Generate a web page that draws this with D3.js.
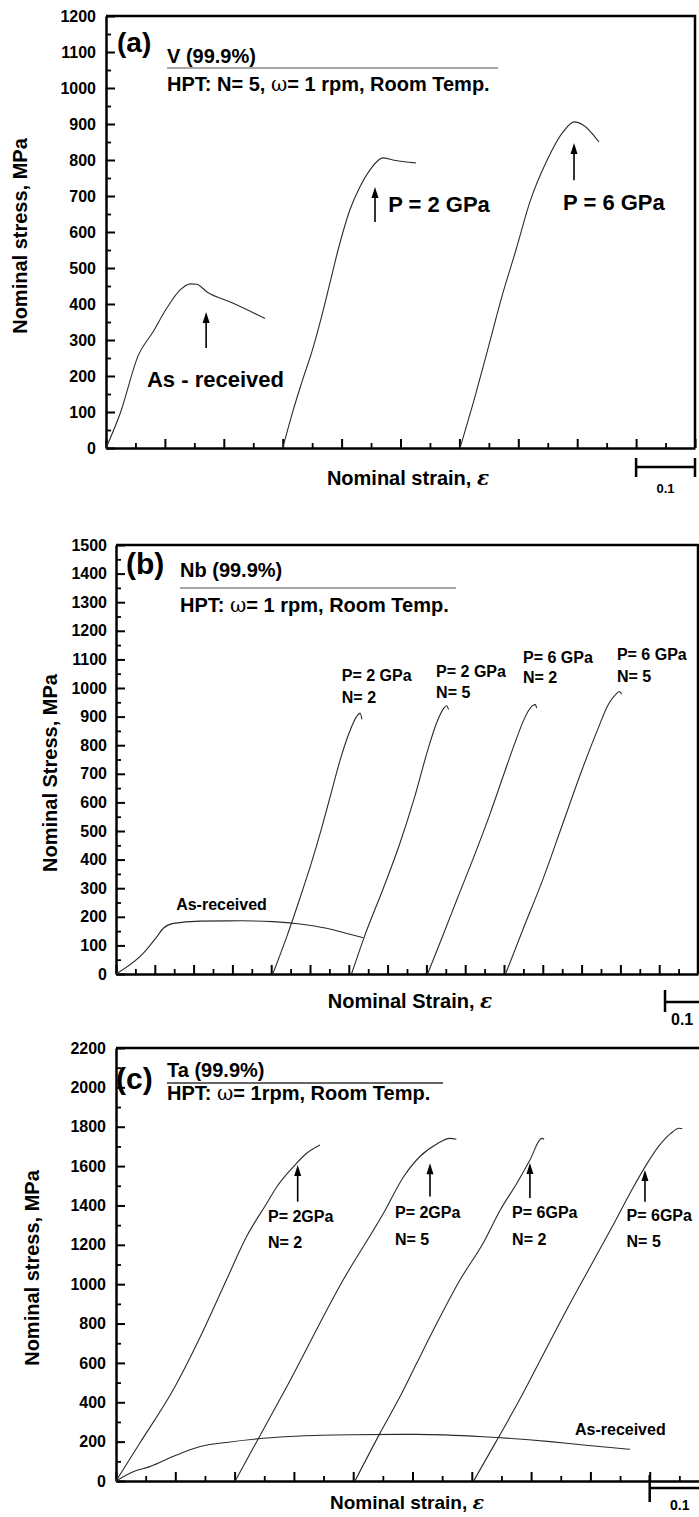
<!DOCTYPE html>
<html><head><meta charset="utf-8">
<script src="https://cdn.jsdelivr.net/npm/d3@7"></script>
<style>
body{margin:0;background:#fff;}
svg{display:block;font-family:"Liberation Sans",Arial,sans-serif;font-weight:bold;}
</style></head><body>
<svg id="chart" width="699" height="1517"></svg>
<script>
// ---------------- DATA ----------------
// Panel (a) V (99.9%)  [strain, stress MPa]
const vAsReceived = [[0,0],[0.024,96],[0.055,258],[0.080,323],[0.103,388],[0.126,439],[0.143,456],[0.154,455],[0.171,434],[0.216,402],[0.270,360]];
const vP2 = [[0.300,0],[0.318,106],[0.332,180],[0.352,281],[0.366,365],[0.380,457],[0.394,550],[0.414,661],[0.431,725],[0.448,772],[0.470,806],[0.487,800],[0.526,792]];
const vP6 = [[0.601,0],[0.626,140],[0.650,285],[0.672,420],[0.696,550],[0.720,685],[0.749,800],[0.776,878],[0.795,906],[0.810,897],[0.837,850]];
const aStressTicks = [0,100,200,300,400,500,600,700,800,900,1000,1100,1200];

// Panel (b) Nb (99.9%)
const nbAsReceived = [[0,0],[0.070,72],[0.105,130],[0.122,160],[0.148,177],[0.216,185],[0.320,186],[0.405,183],[0.474,175],[0.543,160],[0.603,139],[0.637,127]];
const nbP2N2 = [[0.404,0],[0.440,130],[0.474,265],[0.504,390],[0.530,510],[0.552,620],[0.577,745],[0.600,840],[0.620,900],[0.629,912],[0.634,890]];
const nbP2N5 = [[0.607,0],[0.640,130],[0.689,300],[0.730,450],[0.770,620],[0.805,790],[0.827,880],[0.844,928],[0.852,938],[0.857,925]];
const nbP6N2 = [[0.803,0],[0.844,140],[0.880,265],[0.921,405],[0.964,560],[1.000,700],[1.030,815],[1.050,885],[1.065,925],[1.075,940],[1.081,942],[1.084,930]];
const nbP6N5 = [[1.004,0],[1.050,160],[1.100,330],[1.150,520],[1.200,710],[1.240,850],[1.270,945],[1.288,978],[1.298,988],[1.303,978]];
const bStressTicks = [0,100,200,300,400,500,600,700,800,900,1000,1100,1200,1300,1400,1500];

// Panel (c) Ta (99.9%)
const taAsReceived = [[0,0],[0.029,47],[0.057,73],[0.102,132],[0.142,175],[0.186,196],[0.248,217],[0.310,229],[0.395,235],[0.507,237],[0.619,225],[0.732,200],[0.788,183],[0.867,161]];
const taP2N2 = [[0,0],[0.040,192],[0.096,461],[0.142,732],[0.186,1020],[0.220,1241],[0.254,1410],[0.271,1494],[0.299,1596],[0.321,1664],[0.344,1707]];
const taP2N5 = [[0.201,0],[0.290,490],[0.383,1021],[0.451,1360],[0.485,1546],[0.513,1650],[0.541,1712],[0.563,1741],[0.574,1736]];
const taP6N2 = [[0.403,0],[0.445,242],[0.479,429],[0.507,598],[0.541,801],[0.580,1021],[0.619,1208],[0.648,1377],[0.676,1513],[0.698,1631],[0.718,1741],[0.722,1736]];
const taP6N5 = [[0.603,0],[0.640,195],[0.680,410],[0.720,640],[0.760,870],[0.800,1090],[0.840,1310],[0.870,1480],[0.895,1610],[0.915,1700],[0.935,1765],[0.950,1792],[0.955,1790]];
const cStressTicks = [0,200,400,600,800,1000,1200,1400,1600,1800,2000,2200];

// ---------------- DRAW ----------------
const svg = d3.select("#chart");
const curveColor = "#2b2b2b";

function richText(g, x, y, size, parts, anchor) {
  const t = g.append("text").attr("x", x).attr("y", y).attr("font-size", size)
    .attr("text-anchor", anchor || "start").attr("fill", "#000");
  parts.forEach(p => {
    const s = t.append("tspan").text(p.t);
    if (p.serif) s.attr("font-family", "'DejaVu Serif','Liberation Serif',serif").attr("font-weight", p.w || "normal");
    if (p.italic) s.attr("font-style", "italic");
  });
  return t;
}

function arrow(g, x, y1, y2) {
  g.append("line").attr("x1", x).attr("x2", x).attr("y1", y1).attr("y2", y2 + 8)
    .attr("stroke", "#000").attr("stroke-width", 1.6);
  g.append("path").attr("d", `M${x},${y2} L${x-3.5},${y2+11} L${x+3.5},${y2+11} Z`).attr("fill", "#000");
}

function panel(cfg) {
  const g = svg.append("g");
  const x = d3.scaleLinear().domain(cfg.xDomain).range(cfg.xRange);
  const y = d3.scaleLinear().domain([0, cfg.yTicks[cfg.yTicks.length - 1]]).range(cfg.yRange);
  const yStep = cfg.yTicks[1] - cfg.yTicks[0];
  const yMinor = cfg.yTicks.slice(0, -1).map(v => v + yStep / 2);
  const xMaj = d3.range(0, cfg.xDomain[1] + 1e-9, 0.1);
  const xMin = d3.range(0.05, cfg.xDomain[1], 0.1);

  g.append("g").attr("transform", `translate(${cfg.xRange[0]},0)`)
    .call(d3.axisLeft(y).tickValues(yMinor).tickSize(-5).tickFormat(""))
    .call(s => s.select(".domain").remove())
    .selectAll("line").attr("stroke-width", 1.8);
  g.append("g").attr("transform", `translate(0,${cfg.yRange[0]})`)
    .call(d3.axisBottom(x).tickValues(xMin).tickSize(-5).tickFormat(""))
    .call(s => s.select(".domain").remove())
    .selectAll("line").attr("stroke-width", 1.8);

  const ya = g.append("g").attr("transform", `translate(${cfg.xRange[0]},0)`)
    .call(d3.axisLeft(y).tickValues(cfg.yTicks).tickSize(-9).tickSizeOuter(0).tickPadding(cfg.tickPad).tickFormat(d3.format("d")));
  ya.selectAll("line").attr("stroke-width", 2);
  ya.selectAll("text").attr("font-size", 16).attr("font-family", "'Liberation Sans',Arial,sans-serif").attr("font-weight", "bold").attr("fill", "#000");
  const xa = g.append("g").attr("transform", `translate(0,${cfg.yRange[0]})`)
    .call(d3.axisBottom(x).tickValues(xMaj).tickSize(-9).tickSizeOuter(0).tickFormat(""));
  xa.selectAll("line").attr("stroke-width", 2);
  g.selectAll(".domain").attr("stroke-width", 2.5);
  g.append("path").attr("d", `M${cfg.xRange[0]},${cfg.yRange[1]} H${cfg.xRange[1]} V${cfg.yRange[0]}`)
    .attr("fill", "none").attr("stroke", "#000").attr("stroke-width", 2.5);

  const line = d3.line().x(d => x(d[0])).y(d => y(d[1])).curve(d3.curveMonotoneX);
  cfg.series.forEach(s => {
    g.append("path").datum(s).attr("d", line).attr("fill", "none")
      .attr("stroke", curveColor).attr("stroke-width", 1.1);
  });
  return {g, x, y};
}

// ---- Panel (a)
const A = panel({xDomain:[0,1.0], xRange:[106,695], yRange:[448,16], yTicks:aStressTicks, tickPad:10,
  series:[vAsReceived, vP2, vP6]});
richText(A.g, 117, 52, 28, [{t:"(a)"}]);
richText(A.g, 167, 63, 20, [{t:"V (99.9%)"}]);
A.g.append("line").attr("x1",167).attr("x2",498).attr("y1",68).attr("y2",68).attr("stroke","#8a8a8a").attr("stroke-width",1.5);
richText(A.g, 167, 91, 20, [{t:"HPT: N= 5, "},{t:"ω",serif:true},{t:"= 1 rpm, Room Temp."}]);
arrow(A.g, A.x(0.170), A.y(278), A.y(378));
richText(A.g, A.x(0.0696), A.y(169), 22, [{t:"As - received"}]);
arrow(A.g, A.x(0.4567), A.y(628), A.y(725));
richText(A.g, A.x(0.479), A.y(656), 22, [{t:"P = 2 GPa"}]);
arrow(A.g, A.x(0.7946), A.y(744), A.y(847));
richText(A.g, A.x(0.776), A.y(661), 22, [{t:"P = 6 GPa"}]);
A.g.append("text").attr("transform","translate(27,236) rotate(-90)").attr("text-anchor","middle")
  .attr("font-size",20).text("Nominal stress, MPa");
richText(A.g, 408, 485, 20, [{t:"Nominal strain, "},{t:"ε",serif:true,italic:true,w:"bold"}], "middle");
A.g.append("path").attr("d", `M${A.x(0.9)},458 V477 M${A.x(0.9)},467 H${A.x(1.0)} M${A.x(1.0)},458 V477`)
  .attr("stroke","#000").attr("stroke-width",2.5).attr("fill","none");
richText(A.g, (A.x(0.9)+A.x(1.0))/2, 493, 13, [{t:"0.1"}], "middle");

// ---- Panel (b)
const B = panel({xDomain:[0,1.5], xRange:[116,698], yRange:[974,545], yTicks:bStressTicks, tickPad:9,
  series:[nbAsReceived, nbP2N2, nbP2N5, nbP6N2, nbP6N5]});
richText(B.g, 126, 574, 30, [{t:"(b)"}]);
richText(B.g, 180, 577, 20, [{t:"Nb (99.9%)"}]);
B.g.append("line").attr("x1",180).attr("x2",456).attr("y1",588).attr("y2",588).attr("stroke","#8a8a8a").attr("stroke-width",1.5);
richText(B.g, 180, 612, 20, [{t:"HPT: "},{t:"ω",serif:true},{t:"= 1 rpm, Room Temp."}]);
const bLabels = [
  {p:"P= 2 GPa", n:"N= 2", x:0.582, y1:1025, y2:949},
  {p:"P= 2 GPa", n:"N= 5", x:0.825, y1:1040, y2:965},
  {p:"P= 6 GPa", n:"N= 2", x:1.049, y1:1088, y2:1016},
  {p:"P= 6 GPa", n:"N= 5", x:1.291, y1:1098, y2:1022}
];
bLabels.forEach(l => {
  richText(B.g, B.x(l.x), B.y(l.y1), 16, [{t:l.p}]);
  richText(B.g, B.x(l.x), B.y(l.y2), 16, [{t:l.n}]);
});
richText(B.g, B.x(0.155), B.y(224), 16, [{t:"As-received"}]);
B.g.append("text").attr("transform","translate(57,773) rotate(-90)").attr("text-anchor","middle")
  .attr("font-size",20).text("Nominal Stress, MPa");
richText(B.g, 410, 1008, 20, [{t:"Nominal Strain, "},{t:"ε",serif:true,italic:true,w:"bold"}], "middle");
B.g.append("path").attr("d", `M${B.x(1.415)},990 V1012 M${B.x(1.415)},1002 H${B.x(1.515)}`)
  .attr("stroke","#000").attr("stroke-width",2.5).attr("fill","none");
richText(B.g, 671, 1025, 16, [{t:"0.1"}]);

// ---- Panel (c)
const C = panel({xDomain:[0,1.0], xRange:[116,709], yRange:[1481,1048], yTicks:cStressTicks, tickPad:10,
  series:[taAsReceived, taP2N2, taP2N5, taP6N2, taP6N5]});
richText(C.g, 116, 1089, 30, [{t:"(c)"}]);
richText(C.g, 167, 1077, 20, [{t:"Ta (99.9%)"}]);
C.g.append("line").attr("x1",167).attr("x2",443).attr("y1",1083).attr("y2",1083).attr("stroke","#333").attr("stroke-width",1.5);
richText(C.g, 167, 1100, 20, [{t:"HPT: "},{t:"ω",serif:true},{t:"= 1rpm, Room Temp."}]);
const cLabels = [
  {p:"P= 2GPa", n:"N= 2", ax:0.3064, a1:1419, a2:1606, x:0.2563, y1:1318, y2:1184},
  {p:"P= 2GPa", n:"N= 5", ax:0.5295, a1:1445, a2:1615, x:0.4705, y1:1336, y2:1199},
  {p:"P= 6GPa", n:"N= 2", ax:0.698, a1:1438, a2:1616, x:0.668, y1:1336, y2:1199},
  {p:"P= 6GPa", n:"N= 5", ax:0.892, a1:1419, a2:1580, x:0.861, y1:1323, y2:1189}
];
cLabels.forEach(l => {
  arrow(C.g, C.x(l.ax), C.y(l.a1), C.y(l.a2));
  richText(C.g, C.x(l.x), C.y(l.y1), 16, [{t:l.p}]);
  richText(C.g, C.x(l.x), C.y(l.y2), 16, [{t:l.n}]);
});
richText(C.g, C.x(0.774), C.y(234), 16, [{t:"As-received"}]);
C.g.append("text").attr("transform","translate(39,1268) rotate(-90)").attr("text-anchor","middle")
  .attr("font-size",20).text("Nominal stress, MPa");
richText(C.g, 407, 1509, 19, [{t:"Nominal strain, "},{t:"ε",serif:true,italic:true,w:"bold"}], "middle");
C.g.append("path").attr("d", `M${C.x(0.9)},1475 V1502 M${C.x(0.9)},1488 H${C.x(1.0)}`)
  .attr("stroke","#000").attr("stroke-width",2.5).attr("fill","none");
richText(C.g, 670, 1510, 14, [{t:"0.1"}]);
</script>
</body></html>
